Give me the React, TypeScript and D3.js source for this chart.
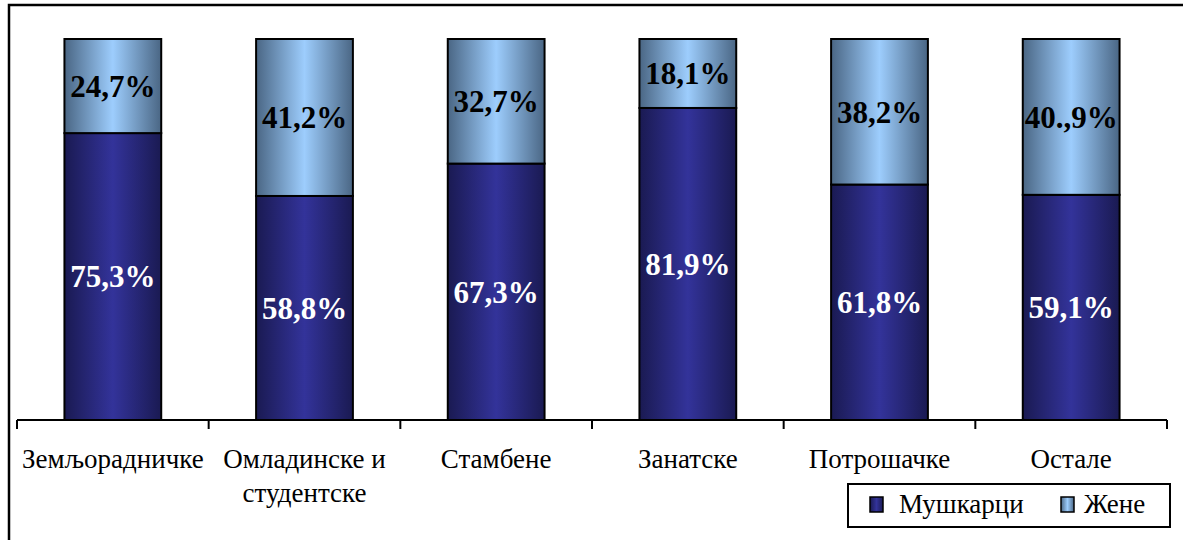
import React from "react";
import * as d3 from "d3";

const categories = ["Земљорадничке", "Омладинске и|студентске", "Стамбене", "Занатске", "Потрошачке", "Остале"];
const menValues = [75.3, 58.8, 67.3, 81.9, 61.8, 59.1];
const womenValues = [24.7, 41.2, 32.7, 18.1, 38.2, 40.9];
const menLabels = ["75,3%", "58,8%", "67,3%", "81,9%", "61,8%", "59,1%"];
const womenLabels = ["24,7%", "41,2%", "32,7%", "18,1%", "38,2%", "40.,9%"];
const seriesNames = ["Мушкарци", "Жене"];

export default function App() {
  const W = 1183, H = 540;
  const x0 = 17, x1 = 1167, yTop = 39, yBot = 420;
  const x = d3.scaleBand<string>().domain(categories).range([x0, x1]).paddingInner(0.495).paddingOuter(0.2475);
  const y = d3.scaleLinear().domain([0, 100]).range([yBot, yTop]);
  const bw = x.bandwidth();
  const step = x.step();
  return (
    <svg width={W} height={H} style={{ position: "absolute", left: 0, top: 0, background: "#fff", fontFamily: "Liberation Serif" }}>
      <defs>
        <linearGradient id="gMen" x1="0" x2="1" y1="0" y2="0">
          <stop offset="0" stopColor="#1a1a52" />
          <stop offset="0.5" stopColor="#33339a" />
          <stop offset="1" stopColor="#1a1a52" />
        </linearGradient>
        <linearGradient id="gWomen" x1="0" x2="1" y1="0" y2="0">
          <stop offset="0" stopColor="#4a6684" />
          <stop offset="0.5" stopColor="#9dcdfd" />
          <stop offset="1" stopColor="#4a6684" />
        </linearGradient>
      </defs>
      <rect x={0} y={0} width={W} height={H} fill="#fff" />
      <rect x={9} y={5} width={W + 20} height={H + 20} fill="none" stroke="#000" strokeWidth={2.5} />
      {categories.map((c, i) => {
        const bx = x(c)!;
        const yMen = y(menValues[i]);
        const yAll = y(menValues[i] + womenValues[i]);
        return (
          <g key={c}>
            <rect x={bx} y={yMen} width={bw} height={yBot - yMen} fill="url(#gMen)" stroke="#000" strokeWidth={2} />
            <rect x={bx} y={yAll} width={bw} height={yMen - yAll} fill="url(#gWomen)" stroke="#000" strokeWidth={2} />
            <text x={bx + bw / 2} y={(yMen + yBot) / 2} dy="0.35em" textAnchor="middle" fontWeight="bold" fontSize={31} fill="#fff">{menLabels[i]}</text>
            <text x={bx + bw / 2} y={(yAll + yMen) / 2} dy="0.35em" textAnchor="middle" fontWeight="bold" fontSize={31} fill="#000">{womenLabels[i]}</text>
          </g>
        );
      })}
      <line x1={x0} x2={x1} y1={yBot} y2={yBot} stroke="#000" strokeWidth={2} />
      {d3.range(categories.length + 1).map((i) => (
        <line key={i} x1={x0 + i * step} x2={x0 + i * step} y1={yBot} y2={yBot + 9} stroke="#000" strokeWidth={2} />
      ))}
      {categories.map((c) => {
        const lines = c.split("|");
        const cx = x(c)! + bw / 2;
        return (
          <text key={c} x={cx} y={468} textAnchor="middle" fontSize={27} fill="#000">
            {lines.map((l, j) => (
              <tspan key={j} x={cx} dy={j === 0 ? 0 : 34}>{l}</tspan>
            ))}
          </text>
        );
      })}
      <g>
        <rect x={848} y={484} width={322} height={43} fill="#fff" stroke="#000" strokeWidth={2} />
        <rect x={870} y={497} width={13} height={15} fill="url(#gMen)" stroke="#000" strokeWidth={1.5} />
        <text x={899} y={513} fontSize={27}>{seriesNames[0]}</text>
        <rect x={1061} y={497} width={13} height={15} fill="url(#gWomen)" stroke="#000" strokeWidth={1.5} />
        <text x={1084} y={513} fontSize={27}>{seriesNames[1]}</text>
      </g>
    </svg>
  );
}
